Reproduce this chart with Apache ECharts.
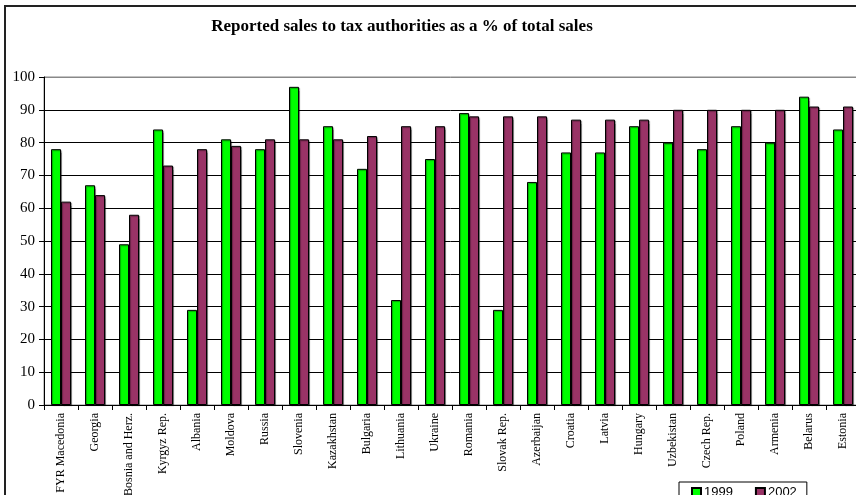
<!DOCTYPE html>
<html>
<head>
<meta charset="utf-8">
<script src="https://cdn.jsdelivr.net/npm/echarts@6/dist/echarts.min.js"></script>
<style>
  html, body { margin: 0; padding: 0; background: #fff; }
  #chart { width: 856px; height: 495px; }
</style>
</head>
<body>
<div id="chart"></div>
<script>
// Countries along the category axis
const countries = [
  'FYR Macedonia', 'Georgia', 'Bosnia and Herz.', 'Kyrgyz Rep.', 'Albania',
  'Moldova', 'Russia', 'Slovenia', 'Kazakhstan', 'Bulgaria', 'Lithuania',
  'Ukraine', 'Romania', 'Slovak Rep.', 'Azerbaijan', 'Croatia', 'Latvia',
  'Hungary', 'Uzbekistan', 'Czech Rep.', 'Poland', 'Armenia', 'Belarus', 'Estonia'
];

// Share of sales reported to tax authorities (%)
const sales1999 = [78, 67, 49, 84, 29, 81, 78, 97, 85, 72, 32, 75, 89, 29, 68, 77, 77, 85, 80, 78, 85, 80, 94, 84];
const sales2002 = [62, 64, 58, 73, 78, 79, 81, 81, 81, 82, 85, 85, 88, 88, 88, 87, 87, 87, 90, 90, 90, 90, 91, 91];

const yTicks = { min: 0, max: 100, interval: 10 };

const serif = '"Liberation Serif", "Times New Roman", serif';

// Black gridlines, with the top one (at 100) drawn in grey like the plot frame
const gridColors = [];
for (let v = yTicks.min; v <= yTicks.max; v += yTicks.interval) {
  gridColors.push(v === yTicks.max ? '#888' : '#000');
}

const chart = echarts.init(document.getElementById('chart'), null, { renderer: 'canvas' });

const barStyle = (color) => ({
  color: color,
  borderColor: '#000',
  borderWidth: 1,
  shadowColor: 'rgba(0,0,0,0.35)',
  shadowOffsetX: 1,
  shadowOffsetY: 1,
  shadowBlur: 1
});

chart.setOption({
  animation: false,
  backgroundColor: '#fff',
  title: {
    text: 'Reported sales to tax authorities as a % of total sales',
    left: 397,
    textAlign: 'center',
    top: 13,
    textStyle: { fontFamily: serif, fontWeight: 'bold', fontSize: 17, color: '#000' }
  },
  graphic: [{
    type: 'rect',
    shape: { x: 5, y: 6, width: 900, height: 600 },
    style: { fill: 'none', stroke: '#222', lineWidth: 2 },
    silent: true,
    z: -1
  }],
  legend: {
    data: ['1999', '2002'],
    left: 679,
    top: 482,
    padding: [4, 10, 4, 12],
    itemGap: 22,
    itemWidth: 9,
    itemHeight: 9,
    icon: 'rect',
    borderColor: '#000',
    borderWidth: 1,
    textStyle: { fontFamily: 'Liberation Sans, Arial, sans-serif', fontSize: 13, color: '#000', padding: [0, 0, 0, -2] }
  },
  grid: {
    left: 44,
    top: 77,
    width: 816,
    height: 328,
    show: true,
    borderColor: '#888',
    borderWidth: 1,
    containLabel: false,
    outerBoundsMode: 'none'
  },
  xAxis: {
    type: 'category',
    data: countries,
    axisLine: { lineStyle: { color: '#000', width: 1 } },
    axisTick: { show: true, alignWithLabel: false, length: 5, lineStyle: { color: '#000' } },
    axisLabel: {
      rotate: 90,
      interval: 0,
      margin: 8,
      fontFamily: serif,
      fontSize: 12,
      color: '#000'
    },
    splitLine: { show: false }
  },
  yAxis: {
    type: 'value',
    min: yTicks.min,
    max: yTicks.max,
    interval: yTicks.interval,
    axisLine: { show: true, lineStyle: { color: '#000', width: 1 } },
    axisTick: { show: true, inside: false, length: 5, lineStyle: { color: '#000' } },
    axisLabel: { fontFamily: serif, fontSize: 15, color: '#000', margin: 9 },
    splitLine: { show: true, lineStyle: { color: gridColors, width: 1 } }
  },
  series: [
    {
      name: '1999',
      type: 'bar',
      data: sales1999,
      barWidth: 10,
      barGap: '0%',
      itemStyle: barStyle('#00ff00')
    },
    {
      name: '2002',
      type: 'bar',
      data: sales2002,
      barWidth: 10,
      barGap: '0%',
      itemStyle: barStyle('#993366')
    }
  ]
});
</script>
</body>
</html>
